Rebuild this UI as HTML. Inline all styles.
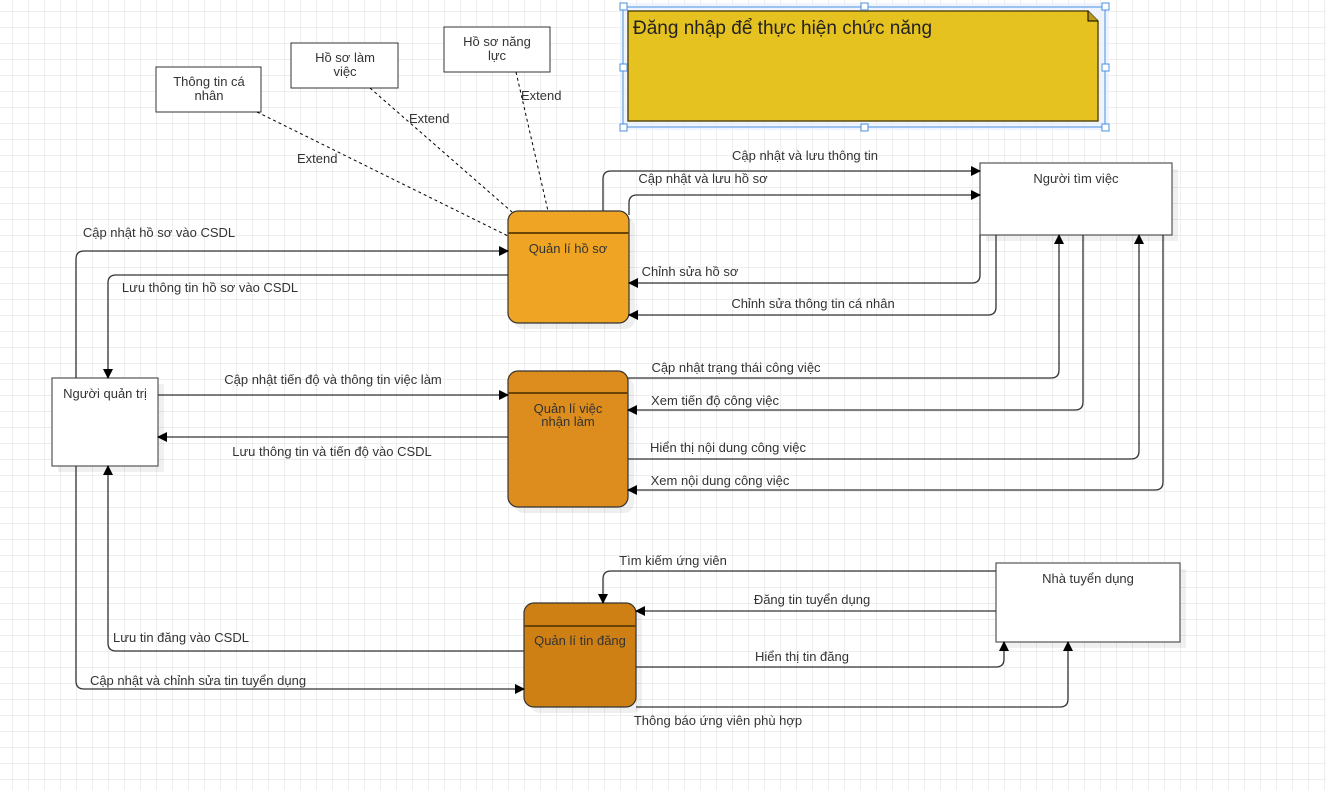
<!DOCTYPE html>
<html><head><meta charset="utf-8"><style>
html,body{margin:0;padding:0;background:#fff;}
svg{display:block;}
text{font-family:"Liberation Sans",sans-serif;font-size:13px;fill:#333;}
</style></head><body>
<svg width="1326" height="790" viewBox="0 0 1326 790" xmlns="http://www.w3.org/2000/svg">
<defs>
<pattern id="g" x="12" y="11" width="16" height="16" patternUnits="userSpaceOnUse">
<path d="M0 0H16M0 0V16" stroke="#e8e8e8" stroke-width="1.5" fill="none"/>
</pattern>
<marker id="a" markerWidth="10" markerHeight="10" refX="9" refY="5" orient="auto" markerUnits="userSpaceOnUse">
<path d="M0 0L10 5L0 10Z" fill="#000"/>
</marker>
</defs>
<rect width="1326" height="790" fill="url(#g)"/>

<rect x="620" y="3" width="489" height="127" fill="#e8f0fd" opacity="0.7"/>
<path d="M628 11H1088L1098 21V121H628Z" fill="#e6c220" stroke="#5b4d10" stroke-width="1.5"/>
<path d="M1088 11V21H1098" fill="#b89a18" stroke="#000" stroke-width="1"/>
<rect x="623" y="7" width="482" height="120" fill="none" stroke="#4a90e2" stroke-width="1"/>
<g fill="#fff" stroke="#4a90e2" stroke-width="1">
<rect x="620" y="3" width="7" height="7"/><rect x="861" y="3" width="7" height="7"/><rect x="1102" y="3" width="7" height="7"/>
<rect x="620" y="64" width="7" height="7"/><rect x="1102" y="64" width="7" height="7"/>
<rect x="620" y="124" width="7" height="7"/><rect x="861" y="124" width="7" height="7"/><rect x="1102" y="124" width="7" height="7"/>
</g>
<text x="633" y="34" style="font-size:19px;fill:#222">Đăng nhập để thực hiện chức năng</text>

<g fill="#fff" stroke="#333" stroke-width="1">
<rect x="156" y="67" width="105" height="45"/>
<rect x="291" y="43" width="107" height="45"/>
<rect x="444" y="27" width="106" height="45"/>
</g>
<text x="209" y="86" text-anchor="middle">Thông tin cá</text><text x="209" y="100" text-anchor="middle">nhân</text>
<text x="345" y="62" text-anchor="middle">Hồ sơ làm</text><text x="345" y="76" text-anchor="middle">việc</text>
<text x="497" y="46" text-anchor="middle">Hồ sơ năng</text><text x="497" y="60" text-anchor="middle">lực</text>
<g stroke="#000" stroke-dasharray="3,3" fill="none">
<path d="M257 112L508 236"/><path d="M370 88L512 212"/><path d="M516 72L548 211"/>
</g>
<text x="297" y="163">Extend</text><text x="409" y="123">Extend</text><text x="521" y="100">Extend</text>

<g fill="#000" opacity="0.06">
<rect x="514" y="217" width="121" height="112" rx="10"/>
<rect x="514" y="377" width="120" height="136" rx="10"/>
<rect x="530" y="609" width="112" height="104" rx="10"/>
<rect x="986" y="169" width="192" height="72"/>
<rect x="58" y="384" width="106" height="88"/>
<rect x="1002" y="569" width="184" height="79"/>
</g>

<rect x="508" y="211" width="121" height="112" rx="10" fill="#efa523" stroke="#333" stroke-width="1.2"/>
<path d="M508 233H629" stroke="#6b4408" stroke-width="2"/>
<text x="568" y="253" text-anchor="middle">Quản lí hồ sơ</text>
<rect x="508" y="371" width="120" height="136" rx="10" fill="#dc8d1d" stroke="#333" stroke-width="1.2"/>
<path d="M508 393H628" stroke="#6b4408" stroke-width="2"/>
<text x="568" y="413" text-anchor="middle">Quản lí việc</text><text x="568" y="426" text-anchor="middle">nhận làm</text>
<rect x="524" y="603" width="112" height="104" rx="10" fill="#cf8015" stroke="#333" stroke-width="1.2"/>
<path d="M524 626H636" stroke="#6b4408" stroke-width="2"/>
<text x="580" y="645" text-anchor="middle">Quản lí tin đăng</text>

<g fill="#fff" stroke="#555" stroke-width="1.2">
<rect x="980" y="163" width="192" height="72"/>
<rect x="52" y="378" width="106" height="88"/>
<rect x="996" y="563" width="184" height="79"/>
</g>
<text x="1076" y="183" text-anchor="middle">Người tìm việc</text>
<text x="105" y="398" text-anchor="middle">Người quản trị</text>
<text x="1088" y="583" text-anchor="middle">Nhà tuyển dụng</text>

<g stroke="#333" stroke-width="1.3" fill="none" marker-end="url(#a)">
<path d="M603 211V179Q603 171 611 171H980"/>
<path d="M629 215V203Q629 195 637 195H980"/>
<path d="M980 235V275Q980 283 972 283H629"/>
<path d="M996 235V307Q996 315 988 315H629"/>
<path d="M508 275H116Q108 275 108 283V378"/>
<path d="M76 378V259Q76 251 84 251H508"/>
<path d="M158 395H508"/>
<path d="M508 437H158"/>
<path d="M628 378H1051Q1059 378 1059 370V235"/>
<path d="M1083 235V402Q1083 410 1075 410H628"/>
<path d="M628 459H1131Q1139 459 1139 451V235"/>
<path d="M1163 235V482Q1163 490 1155 490H628"/>
<path d="M996 571H611Q603 571 603 579V603"/>
<path d="M996 611H636"/>
<path d="M636 667H996Q1004 667 1004 659V642"/>
<path d="M636 707H1060Q1068 707 1068 699V642"/>
<path d="M524 651H116Q108 651 108 643V466"/>
<path d="M76 466V681Q76 689 84 689H524"/>
</g>

<text x="805" y="160" text-anchor="middle">Cập nhật và lưu thông tin</text>
<text x="703" y="183" text-anchor="middle">Cập nhật và lưu hồ sơ</text>
<text x="690" y="276" text-anchor="middle">Chỉnh sửa hồ sơ</text>
<text x="813" y="308" text-anchor="middle">Chỉnh sửa thông tin cá nhân</text>
<text x="210" y="292" text-anchor="middle">Lưu thông tin hồ sơ vào CSDL</text>
<text x="159" y="237" text-anchor="middle">Cập nhật hồ sơ vào CSDL</text>
<text x="333" y="384" text-anchor="middle">Cập nhật tiến độ và thông tin việc làm</text>
<text x="332" y="456" text-anchor="middle">Lưu thông tin và tiến độ vào CSDL</text>
<text x="736" y="372" text-anchor="middle">Cập nhật trạng thái công việc</text>
<text x="715" y="405" text-anchor="middle">Xem tiến độ công việc</text>
<text x="728" y="452" text-anchor="middle">Hiển thị nội dung công việc</text>
<text x="720" y="485" text-anchor="middle">Xem nội dung công việc</text>
<text x="673" y="565" text-anchor="middle">Tìm kiếm ứng viên</text>
<text x="812" y="604" text-anchor="middle">Đăng tin tuyển dụng</text>
<text x="802" y="661" text-anchor="middle">Hiển thị tin đăng</text>
<text x="718" y="725" text-anchor="middle">Thông báo ứng viên phù hợp</text>
<text x="181" y="642" text-anchor="middle">Lưu tin đăng vào CSDL</text>
<text x="198" y="685" text-anchor="middle">Cập nhật và chỉnh sửa tin tuyển dụng</text>
</svg>
</body></html>
